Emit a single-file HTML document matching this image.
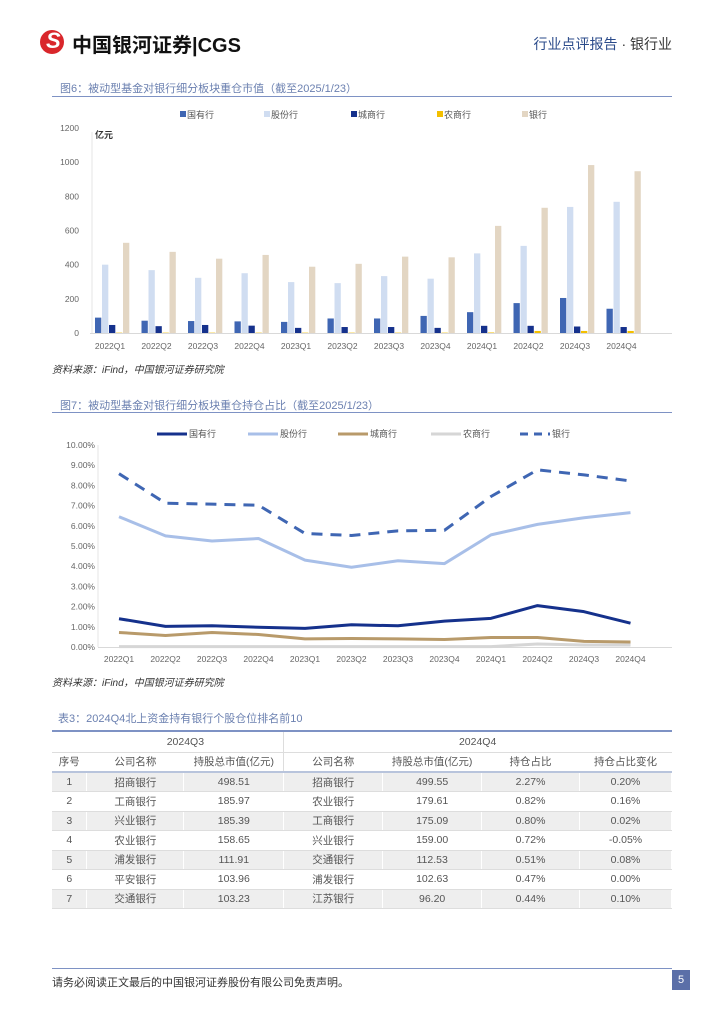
<!DOCTYPE html>
<html><head><meta charset="utf-8"><style>
body{margin:0;width:724px;height:1024px;background:#fff;position:relative;font-family:"Liberation Sans","Noto Sans CJK SC",sans-serif;overflow:hidden}
.abs{position:absolute}
.title{font-size:11px;color:#6b80b0}
.src{font-size:10px;color:#333;font-style:italic}
table{border-collapse:collapse;font-size:10.5px;color:#555}
td{text-align:center;border-right:1px solid #fff;border-bottom:1px solid #ddd;padding:0}
</style></head><body>
<div class="abs" style="left:40px;top:30px;width:24px;height:24px;border-radius:50%;background:#d9262b"></div>
<div class="abs" style="left:46px;top:28px;color:#fff;font-size:22px;font-weight:bold;font-style:italic">S</div>
<div class="abs" style="left:72px;top:29px;font-size:20px;font-weight:bold;color:#111">中国银河证券|CGS</div>
<div class="abs" style="right:52px;top:34px;font-size:14px;color:#2a4a8a">行业点评报告 <span style="color:#333">· 银行业</span></div>

<div class="abs title" style="left:60px;top:80px">图6：被动型基金对银行细分板块重仓市值（截至2025/1/23）</div>
<div class="abs" style="left:52px;top:96px;width:620px;height:1px;background:#7e92c4"></div>
<svg class="abs" id="c1" style="left:0;top:0" width="724" height="360"></svg>
<div class="abs src" style="left:52px;top:361px">资料来源：iFind，中国银河证券研究院</div>

<div class="abs title" style="left:60px;top:397px">图7：被动型基金对银行细分板块重仓持仓占比（截至2025/1/23）</div>
<div class="abs" style="left:52px;top:412px;width:620px;height:1px;background:#7e92c4"></div>
<svg class="abs" id="c2" style="left:0;top:0" width="724" height="680"></svg>
<div class="abs src" style="left:52px;top:674px">资料来源：iFind，中国银河证券研究院</div>

<div class="abs title" style="left:58px;top:710px">表3：2024Q4北上资金持有银行个股仓位排名前10</div>
<div class="abs" style="left:52px;top:730px;width:620px;height:2px;background:#7e92c4"></div>
<table class="abs" style="left:52px;top:732px;width:620px">
<colgroup><col style="width:35px"><col style="width:97px"><col style="width:100px"><col style="width:99px"><col style="width:99px"><col style="width:98px"><col style="width:92px"></colgroup>
<tr style="height:20px"><td></td><td colspan="2" style="border-right:1px solid #ddd">2024Q3</td><td colspan="4">2024Q4</td></tr>
<tr style="height:20px;border-bottom:2px solid #b8c4dc"><td>序号</td><td>公司名称</td><td style="border-right:1px solid #ddd">持股总市值(亿元)</td><td>公司名称</td><td>持股总市值(亿元)</td><td>持仓占比</td><td>持仓占比变化</td></tr>
<tr style="height:19.5px;background:#eeeeee"><td>1</td><td>招商银行</td><td>498.51</td><td>招商银行</td><td>499.55</td><td>2.27%</td><td>0.20%</td></tr>
<tr style="height:19.5px"><td>2</td><td>工商银行</td><td>185.97</td><td>农业银行</td><td>179.61</td><td>0.82%</td><td>0.16%</td></tr>
<tr style="height:19.5px;background:#eeeeee"><td>3</td><td>兴业银行</td><td>185.39</td><td>工商银行</td><td>175.09</td><td>0.80%</td><td>0.02%</td></tr>
<tr style="height:19.5px"><td>4</td><td>农业银行</td><td>158.65</td><td>兴业银行</td><td>159.00</td><td>0.72%</td><td>-0.05%</td></tr>
<tr style="height:19.5px;background:#eeeeee"><td>5</td><td>浦发银行</td><td>111.91</td><td>交通银行</td><td>112.53</td><td>0.51%</td><td>0.08%</td></tr>
<tr style="height:19.5px"><td>6</td><td>平安银行</td><td>103.96</td><td>浦发银行</td><td>102.63</td><td>0.47%</td><td>0.00%</td></tr>
<tr style="height:19.5px;background:#eeeeee"><td>7</td><td>交通银行</td><td>103.23</td><td>江苏银行</td><td>96.20</td><td>0.44%</td><td>0.10%</td></tr>
</table>

<div class="abs" style="left:52px;top:968px;width:620px;height:1px;background:#7e92c4"></div>
<div class="abs" style="left:52px;top:974px;font-size:11px;color:#333">请务必阅读正文最后的中国银河证券股份有限公司免责声明。</div>
<div class="abs" style="left:672px;top:970px;width:18px;height:20px;background:#5b6fa8;color:#fff;font-size:11px;text-align:center;line-height:20px">5</div>

<script>
const categories=["2022Q1","2022Q2","2022Q3","2022Q4","2023Q1","2023Q2","2023Q3","2023Q4","2024Q1","2024Q2","2024Q3","2024Q4"];
const seriesNames=["国有行","股份行","城商行","农商行","银行"];
const barState=[90,72,70,68,65,85,85,100,122,175,205,142];
const barJoint=[400,368,323,350,298,292,333,318,466,510,738,768];
const barCity=[47,40,47,43,30,35,35,30,42,42,38,35];
const barRural=[2,2,2,2,2,2,2,2,3,12,12,12];
const barBank=[528,475,435,457,388,405,447,443,627,733,983,947];
const yTicks1=[0,200,400,600,800,1000,1200];
const lineState=[1.40,1.02,1.05,0.98,0.92,1.10,1.05,1.28,1.42,2.05,1.75,1.18];
const lineJoint=[6.45,5.50,5.25,5.37,4.30,3.95,4.27,4.13,5.55,6.07,6.40,6.65];
const lineCity=[0.72,0.57,0.72,0.62,0.40,0.42,0.40,0.37,0.47,0.47,0.28,0.25];
const lineRural=[0.02,0.02,0.02,0.02,0.02,0.02,0.02,0.02,0.02,0.15,0.10,0.10];
const lineBank=[8.58,7.12,7.07,7.02,5.62,5.52,5.75,5.78,7.45,8.77,8.52,8.22];
const yTicks2=[0,1,2,3,4,5,6,7,8,9,10];

const NS="http://www.w3.org/2000/svg";
function mk(svg,tag,attrs,text){const e=document.createElementNS(NS,tag);for(const k in attrs)e.setAttribute(k,attrs[k]);if(text!=null)e.textContent=text;svg.appendChild(e);return e;}

// Chart 1
const s1=document.getElementById('c1');
const x1=i=>113+i*46.5, y1=v=>333-v/1200*205;
const c1cols=["#3f66b3","#d0ddf1","#15318c","#f3bf00","#e3d6c3"];
const c1data=[barState,barJoint,barCity,barRural,barBank];
yTicks1.forEach(t=>{const e=mk(s1,'text',{x:79,y:y1(t)+3,'text-anchor':'end','font-size':8.5,fill:'#666'},t);

});
let ax=mk(s1,'line',{x1:90,x2:672,y1:333.5,y2:333.5,stroke:'#d9d9d9'});


let ay=mk(s1,'line',{x1:92,x2:92,y1:132,y2:333,stroke:'#e6e6e6'});


let un=mk(s1,'text',{x:95,y:138,'font-size':9,'font-weight':'bold',fill:'#333'},'亿元');


categories.forEach((c,i)=>{
 const t=mk(s1,'text',{x:x1(i)-3,y:349,'text-anchor':'middle','font-size':8.5,fill:'#666'},c);
 
 
 c1data.forEach((arr,k)=>{
  const v=arr[i];const bx=x1(i)-18+k*7;
  const r=mk(s1,'rect',{x:bx,y:y1(v),width:6.3,height:333-y1(v),fill:c1cols[k]});
  
  
 });
});
const lx1=[180,264,351,437,522];
seriesNames.forEach((n,k)=>{
 const r=mk(s1,'rect',{x:lx1[k],y:111,width:6,height:6,fill:c1cols[k]});
 
 
 const t=mk(s1,'text',{x:lx1[k]+7,y:118,'font-size':9,fill:'#555'},n);
 
 
});

// Chart 2
const s2=document.getElementById('c2');
const x2=i=>119+i*46.5, y2=v=>647-v/10*202;
yTicks2.forEach(t=>{const e=mk(s2,'text',{x:95,y:y2(t)+3,'text-anchor':'end','font-size':8.5,fill:'#666'},t.toFixed(2)+'%');

});
let ax2=mk(s2,'line',{x1:98,x2:672,y1:647.5,y2:647.5,stroke:'#d9d9d9'});


let ay2=mk(s2,'line',{x1:98,x2:98,y1:445,y2:647,stroke:'#e6e6e6'});


categories.forEach((c,i)=>{const t=mk(s2,'text',{x:x2(i),y:662,'text-anchor':'middle','font-size':8.5,fill:'#666'},c);

});
const c2cols=["#15318c","#a8bfe8","#b89a6a","#d6d6d6","#3f66b3"];
const c2data=[lineState,lineJoint,lineCity,lineRural,lineBank];
[3,2,1,0,4].forEach(k=>{
 const d=c2data[k].map((v,i)=>(i?'L':'M')+x2(i)+','+y2(v)).join(' ');
 const p=mk(s2,'path',{d:d,fill:'none',stroke:c2cols[k],'stroke-width':3,'stroke-linejoin':'round','stroke-dasharray':k==4?'11,8':'none'});
 
 
});
const lx2=[157,248,338,431,520];
seriesNames.forEach((n,k)=>{
 const l=mk(s2,'line',{x1:lx2[k],x2:lx2[k]+30,y1:434,y2:434,stroke:c2cols[k],'stroke-width':3,'stroke-dasharray':k==4?'8,6':'none'});
 
 
 const t=mk(s2,'text',{x:lx2[k]+32,y:437,'font-size':9,fill:'#555'},n);
 
 
});
</script>
</body></html>
